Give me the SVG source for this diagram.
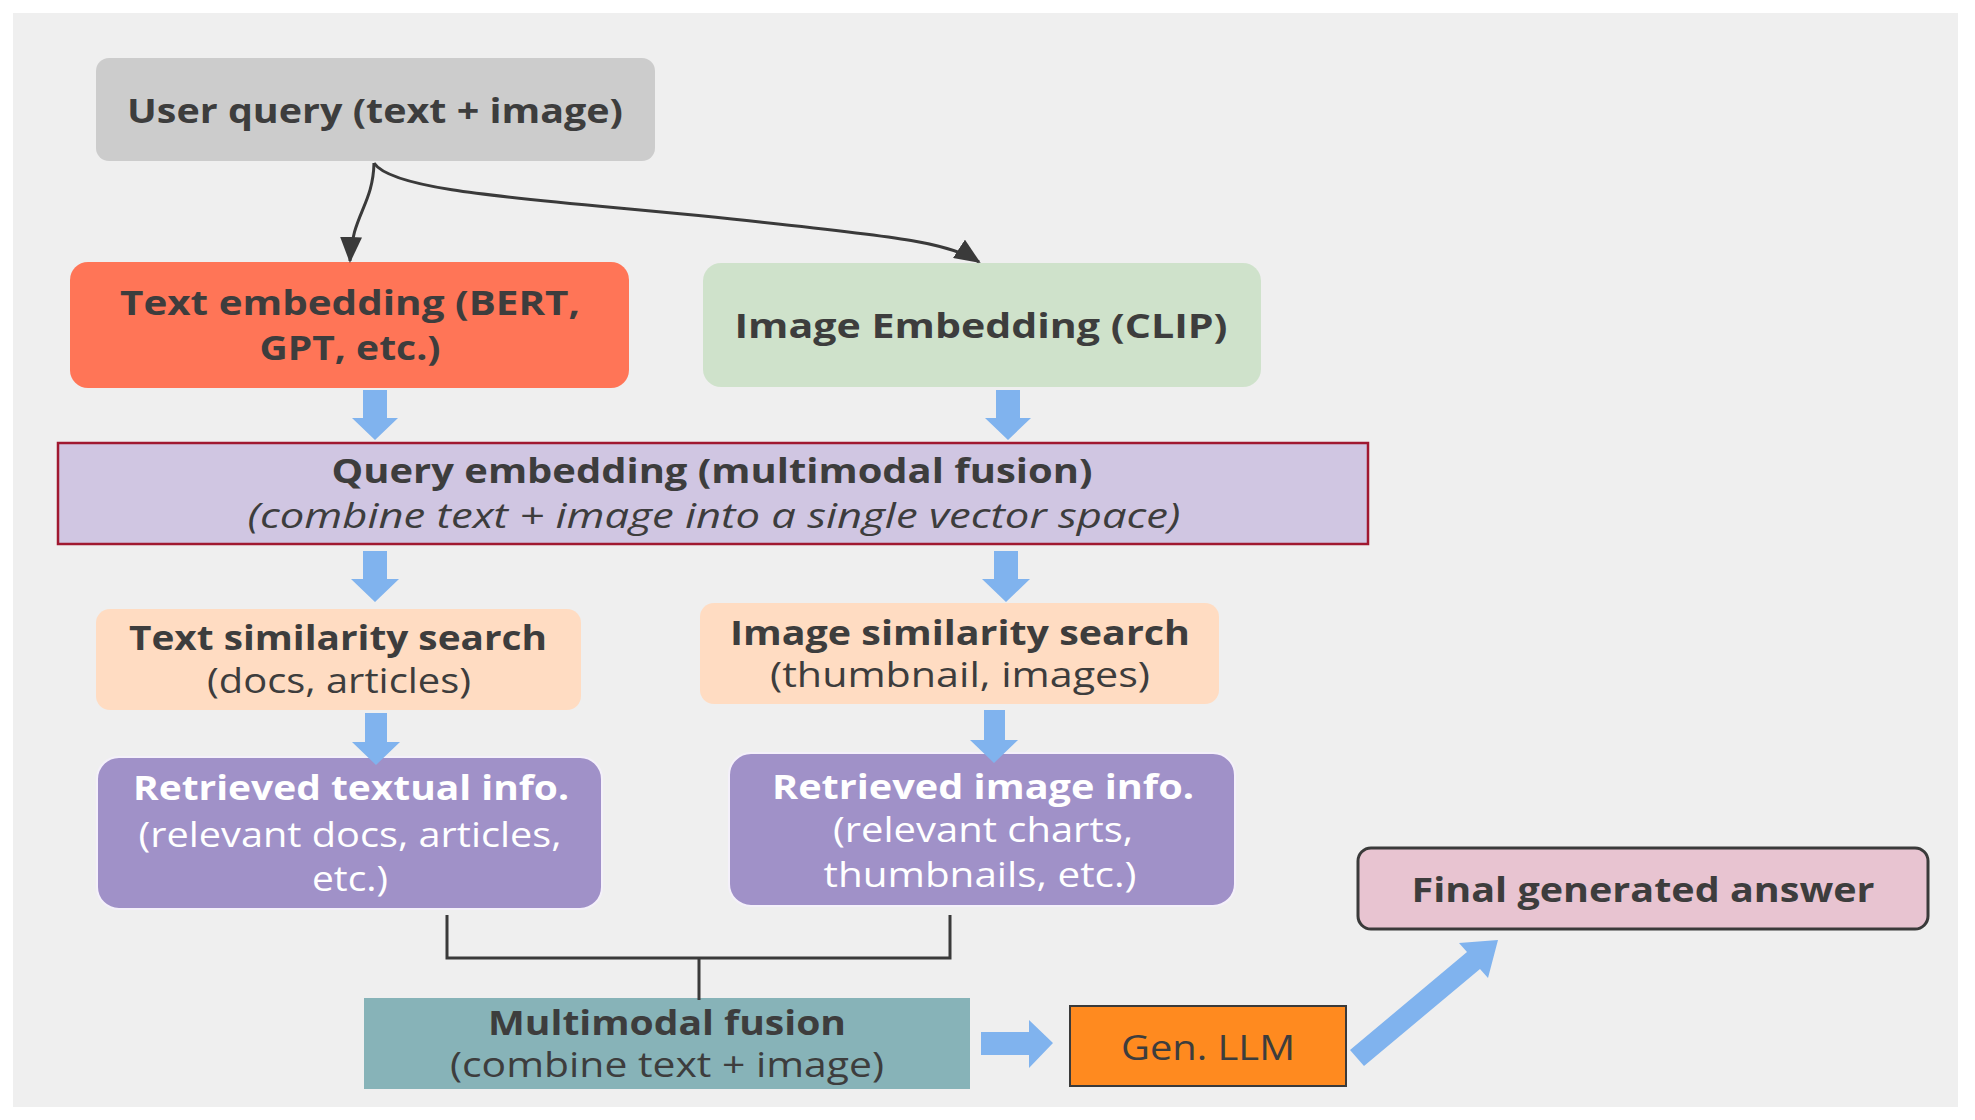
<svg xmlns="http://www.w3.org/2000/svg" width="1975" height="1120" viewBox="0 0 1975 1120">
  <defs>
    <style>
      .t { font-family: "Open Sans", "Liberation Sans", sans-serif; fill: #3d3d3d; text-anchor: middle; font-size: 34px; }
      .b { font-weight: 700; }
      .r { font-weight: 400; }
      .i { font-style: italic; font-weight: 400; }
      .w { fill: #ffffff; }
      .conn { fill: none; stroke: #3a3a3a; stroke-width: 3; }
      .blk { fill: #80b3ee; }
    </style>
    <marker id="ah" markerUnits="userSpaceOnUse" markerWidth="26" markerHeight="22" refX="24" refY="11" orient="auto">
      <path d="M0,0 L26,11 L0,22 z" fill="#3a3a3a"/>
    </marker>
  </defs>

  <rect x="0" y="0" width="1975" height="1120" fill="#ffffff"/>
  <rect x="13" y="13" width="1945" height="1094" fill="#efefef"/>

  <g id="user-query">
    <rect x="96" y="58" width="559" height="103" rx="13" fill="#cccccc"/>
    <text class="t b" x="375" y="123" font-size="35" textLength="496" lengthAdjust="spacingAndGlyphs">User query (text + image)</text>
  </g>

  <g id="text-embedding">
    <rect x="70" y="262" width="559" height="126" rx="18" fill="#ff7557"/>
    <text class="t b" x="350" y="315" textLength="460" lengthAdjust="spacingAndGlyphs">Text embedding (BERT,</text>
    <text class="t b" x="350" y="360" textLength="181" lengthAdjust="spacingAndGlyphs">GPT, etc.)</text>
  </g>

  <g id="image-embedding">
    <rect x="703" y="263" width="558" height="124" rx="18" fill="#cfe2cb"/>
    <text class="t b" x="981" y="338" textLength="493" lengthAdjust="spacingAndGlyphs">Image Embedding (CLIP)</text>
  </g>

  <g id="query-embedding">
    <rect x="58" y="443" width="1310" height="101" fill="#d0c6e2" stroke="#a01830" stroke-width="2.5"/>
    <text class="t b" x="712" y="483" textLength="761" lengthAdjust="spacingAndGlyphs">Query embedding (multimodal fusion)</text>
    <text class="t i" x="714" y="528" textLength="933" lengthAdjust="spacingAndGlyphs">(combine text + image into a single vector space)</text>
  </g>

  <g id="text-similarity">
    <rect x="96" y="609" width="485" height="101" rx="14" fill="#ffdcc2"/>
    <text class="t b" x="338" y="650" textLength="418" lengthAdjust="spacingAndGlyphs">Text similarity search</text>
    <text class="t r" x="339" y="693" textLength="264" lengthAdjust="spacingAndGlyphs">(docs, articles)</text>
  </g>

  <g id="image-similarity">
    <rect x="700" y="603" width="519" height="101" rx="14" fill="#ffdcc2"/>
    <text class="t b" x="960" y="645" textLength="460" lengthAdjust="spacingAndGlyphs">Image similarity search</text>
    <text class="t r" x="960" y="687" textLength="380" lengthAdjust="spacingAndGlyphs">(thumbnail, images)</text>
  </g>

  <g id="retrieved-text">
    <rect x="97" y="757" width="505" height="152" rx="22" fill="#a091c8" stroke="#f4f0fa" stroke-width="2"/>
    <text class="t b w" x="351" y="800" textLength="436" lengthAdjust="spacingAndGlyphs">Retrieved textual info.</text>
    <text class="t r w" x="350" y="847" textLength="423" lengthAdjust="spacingAndGlyphs">(relevant docs, articles,</text>
    <text class="t r w" x="350" y="891" textLength="76" lengthAdjust="spacingAndGlyphs">etc.)</text>
  </g>

  <g id="retrieved-image">
    <rect x="729" y="753" width="506" height="153" rx="22" fill="#a091c8" stroke="#f4f0fa" stroke-width="2"/>
    <text class="t b w" x="983" y="799" textLength="422" lengthAdjust="spacingAndGlyphs">Retrieved image info.</text>
    <text class="t r w" x="983" y="842" textLength="300" lengthAdjust="spacingAndGlyphs">(relevant charts,</text>
    <text class="t r w" x="980" y="887" textLength="313" lengthAdjust="spacingAndGlyphs">thumbnails, etc.)</text>
  </g>

  <g id="multimodal-fusion">
    <rect x="364" y="998" width="606" height="91" fill="#87b3b8"/>
    <text class="t b" x="667" y="1035" textLength="358" lengthAdjust="spacingAndGlyphs">Multimodal fusion</text>
    <text class="t r" x="667" y="1077" textLength="434" lengthAdjust="spacingAndGlyphs">(combine text + image)</text>
  </g>

  <g id="gen-llm">
    <rect x="1070" y="1006" width="276" height="80" fill="#ff8a1f" stroke="#3a3a3a" stroke-width="2"/>
    <text class="t r" x="1208" y="1060" font-size="37" fill="#222" textLength="174" lengthAdjust="spacingAndGlyphs">Gen. LLM</text>
  </g>

  <g id="final-answer">
    <rect x="1358" y="848" width="570" height="81" rx="13" fill="#e8c4d1" stroke="#3a3a3a" stroke-width="3"/>
    <text class="t b" x="1643" y="902" font-size="35" textLength="463" lengthAdjust="spacingAndGlyphs">Final generated answer</text>
  </g>

  <g id="connectors">
    <path class="conn" d="M374,163 C373,205 352,215 350,261" marker-end="url(#ah)"/>
    <path class="conn" d="M374,163 C395,195 560,200 760,222 C900,237 950,243 979,262" marker-end="url(#ah)"/>

    <polygon class="blk" points="363,390 387,390 387,418 398,418 375,440 352,418 363,418"/>
    <polygon class="blk" points="996,390 1020,390 1020,418 1031,418 1008,440 985,418 996,418"/>

    <polygon class="blk" points="363,551 387,551 387,579 399,579 375,602 351,579 363,579"/>
    <polygon class="blk" points="994,551 1018,551 1018,579 1030,579 1006,602 982,579 994,579"/>

    <polygon class="blk" points="365,713 387,713 387,742 400,742 376,765 352,742 365,742"/>
    <polygon class="blk" points="984,710 1005,710 1005,740 1018,740 994,763 970,740 984,740"/>

    <path class="conn" d="M447,915 L447,958 L950,958 L950,915 M699,958 L699,1000" stroke="#2a2a2a"/>

    <polygon class="blk" points="981,1032 1029,1032 1029,1020 1053,1043 1029,1068 1029,1055 981,1055"/>

    <polygon class="blk" points="1364,1066 1480,969 1488,978 1498,940 1459,943 1467,952 1350,1050"/>
  </g>
</svg>
